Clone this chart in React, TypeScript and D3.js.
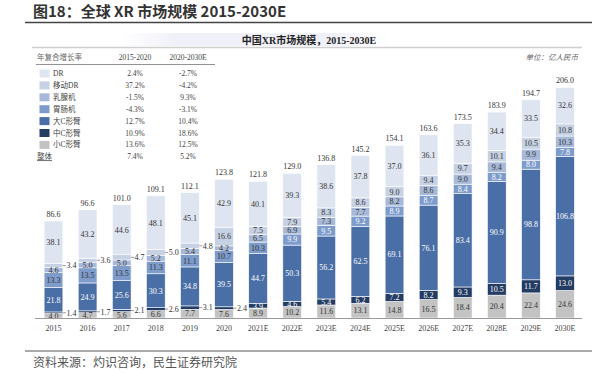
import * as d3 from "d3";

const years = ["2015", "2016", "2017", "2018", "2019", "2020", "2021E", "2022E", "2023E", "2024E", "2025E", "2026E", "2027E", "2028E", "2029E", "2030E"];
const totals = ["86.6", "96.6", "101.0", "109.1", "112.1", "123.8", "121.8", "129.0", "136.8", "145.2", "154.1", "163.6", "173.5", "183.9", "194.7", "206.0"];

// stack order: bottom to top
const smallC = [4.0, 4.7, 5.6, 6.6, 7.7, 7.6, 8.9, 10.2, 11.6, 13.1, 14.8, 16.5, 18.4, 20.4, 22.4, 24.6];
const midC = [1.4, 1.7, 2.1, 2.6, 3.1, 2.4, 3.9, 4.6, 5.4, 6.2, 7.2, 8.2, 9.3, 10.5, 11.7, 13.0];
const bigC = [21.8, 24.9, 25.6, 30.3, 34.8, 39.5, 44.7, 50.3, 56.2, 62.5, 69.1, 76.1, 83.4, 90.9, 98.8, 106.8];
const gastro = [13.3, 13.5, 13.5, 11.3, 11.1, 10.7, 10.3, 9.9, 9.5, 9.2, 8.9, 8.7, 8.4, 8.2, 8.0, 7.8];
const mammo = [4.6, 5.0, 5.0, 5.2, 5.4, 4.2, 6.5, 6.9, 7.3, 7.7, 8.2, 8.6, 9.0, 9.4, 9.9, 10.3];
const mobileDR = [3.4, 3.6, 4.7, 5.0, 4.8, 16.6, 7.5, 7.9, 8.3, 8.6, 9.0, 9.4, 9.7, 10.1, 10.5, 10.8];
const dr = [38.1, 43.2, 44.6, 48.1, 45.1, 42.9, 40.1, 39.3, 38.6, 37.8, 37.0, 36.1, 35.3, 34.4, 33.5, 32.6];

const seriesNames = ["小C形臂", "中C形臂", "大C形臂", "胃肠机", "乳腺机", "移动DR", "DR"];
const seriesValues = [smallC, midC, bigC, gastro, mammo, mobileDR, dr];
const colors = ["#c3c3c3", "#233c63", "#4a6ea6", "#7d9bcb", "#a7b9d8", "#c6d1e4", "#dfe5f0"];

// labels drawn beside the bar instead of inside
const outsideLabels = ["中C形臂|2015", "中C形臂|2016", "中C形臂|2017", "中C形臂|2018", "中C形臂|2019", "中C形臂|2020",
  "移动DR|2015", "移动DR|2016", "移动DR|2017", "移动DR|2018", "移动DR|2019"];
const whiteText = ["大C形臂", "中C形臂"];
const whiteGastroFrom = "2022E";

const legendNames = ["DR", "移动DR", "乳腺机", "胃肠机", "大C形臂", "中C形臂", "小C形臂", "整体"];
const cagr1520 = ["2.4%", "37.2%", "-1.5%", "-4.3%", "12.7%", "10.9%", "13.6%", "7.4%"];
const cagr2030 = ["-2.7%", "-4.2%", "9.3%", "-3.1%", "10.4%", "18.6%", "12.5%", "5.2%"];

const serif = "'Liberation Serif', 'Noto Sans CJK SC', serif";

export default function App() {
  const width = 598;
  const height = 373;
  const base = 318;

  const x = d3.scaleBand<string>()
    .domain(years)
    .range([36.45, 582.05])
    .paddingInner(0.45)
    .paddingOuter(0.225);
  const y = d3.scaleLinear().domain([0, 206]).range([base, base - 230.7]);

  const rows = years.map((yr, i) => {
    const r: any = { year: yr };
    seriesNames.forEach((s, k) => (r[s] = seriesValues[k][i]));
    return r;
  });
  const stack = d3.stack<any>().keys(seriesNames)(rows);
  const bw = x.bandwidth();
  const legendColor = (name: string) => {
    const k = seriesNames.indexOf(name);
    return k >= 0 ? colors[k] : null;
  };

  return (
    <svg width={width} height={height} style={{ position: "absolute", left: 0, top: 0, background: "#fff" }}>
      <defs>
        <linearGradient id="subBg" x1="0" x2="1" y1="0" y2="0">
          <stop offset="0" stopColor="#f3f3fa" stopOpacity="0" />
          <stop offset="0.2" stopColor="#f0f0f8" stopOpacity="1" />
          <stop offset="0.8" stopColor="#f0f0f8" stopOpacity="1" />
          <stop offset="1" stopColor="#f3f3fa" stopOpacity="0" />
        </linearGradient>
      </defs>
      <text x={33} y={17} fontFamily="'Noto Sans CJK SC', sans-serif" fontWeight="bold" fontSize={15} fill="#333">
        图18：全球 XR 市场规模 2015-2030E
      </text>
      <line x1={25} x2={592} y1={22.5} y2={22.5} stroke="#444" strokeWidth={1.5} />

      <rect x={120} y={33} width={270} height={13} fill="url(#subBg)" />
      <text x={309} y={44} textAnchor="middle" fontFamily={serif} fontWeight="bold" fontSize={10} fill="#222">
        中国XR市场规模，2015-2030E
      </text>
      <line x1={32} x2={582} y1={47.5} y2={47.5} stroke="#cfcfcf" strokeWidth={1.5} />
      <text x={578} y={60} textAnchor="end" fontFamily={serif} fontStyle="italic" fontSize={7.5} fill="#666">
        单位：亿人民币
      </text>

      {/* CAGR table */}
      <g fontFamily={serif} fontSize={7.5} fill="#444">
        <text x={37} y={60} fill="#666">年复合增长率</text>
        <text x={135} y={60} textAnchor="middle">2015-2020</text>
        <text x={188} y={60} textAnchor="middle">2020-2030E</text>
        <line x1={36} x2={215} y1={64.5} y2={64.5} stroke="#777" strokeWidth={0.8} />
        {legendNames.map((n, i) => {
          const cy = 73.5 + i * 11.9;
          const c = legendColor(n);
          return (
            <g key={n}>
              {c && <rect x={39.5} y={cy - 4} width={10} height={8} fill={c} />}
              <text x={c ? 53 : 37} y={cy + 2.5} textDecoration={c ? undefined : "underline"}>{n}</text>
              <text x={135} y={cy + 2.5} textAnchor="middle">{cagr1520[i]}</text>
              <text x={188} y={cy + 2.5} textAnchor="middle">{cagr2030[i]}</text>
            </g>
          );
        })}
      </g>

      {/* bars */}
      {stack.map((layer, k) => (
        <g key={layer.key}>
          {layer.map((d, i) => (
            <rect key={i} x={x(years[i])} y={y(d[1])} width={bw} height={y(d[0]) - y(d[1])}
              fill={colors[k]} stroke="#fff" strokeWidth={0.6} />
          ))}
        </g>
      ))}

      {/* segment labels */}
      <g fontFamily={serif} fontSize={8}>
        {stack.map((layer, k) =>
          layer.map((d, i) => {
            const name = seriesNames[k];
            const val = seriesValues[k][i].toFixed(1);
            const cy = (y(d[0]) + y(d[1])) / 2;
            const x0 = x(years[i])!;
            if (outsideLabels.includes(`${name}|${years[i]}`)) {
              return (
                <g key={`${k}-${i}`}>
                  <line x1={x0 + bw} x2={x0 + bw + 3} y1={cy} y2={cy} stroke="#555" strokeWidth={0.6} />
                  <text x={x0 + bw + 3.5} y={cy + 2.8} fill="#333">{val}</text>
                </g>
              );
            }
            const white = whiteText.includes(name) ||
              (name === "胃肠机" && i >= years.indexOf(whiteGastroFrom));
            return (
              <text key={`${k}-${i}`} x={x0 + bw / 2} y={cy + 2.8} textAnchor="middle" fill={white ? "#fff" : "#333"}>
                {val}
              </text>
            );
          })
        )}
        {years.map((yr, i) => (
          <text key={yr} x={x(yr)! + bw / 2} y={y(stack[stack.length - 1][i][1]) - 4} textAnchor="middle" fill="#333">
            {totals[i]}
          </text>
        ))}
        {years.map((yr) => (
          <text key={`x${yr}`} x={x(yr)! + bw / 2} y={331} textAnchor="middle" fill="#444">
            {yr}
          </text>
        ))}
      </g>
      <line x1={35} x2={582} y1={base + 0.5} y2={base + 0.5} stroke="#999" strokeWidth={1} />

      <line x1={25} x2={592} y1={351} y2={351} stroke="#555" strokeWidth={1} />
      <text x={33} y={367} fontFamily="'Noto Sans CJK SC', sans-serif" fontSize={12} fill="#555">
        资料来源：灼识咨询，民生证券研究院
      </text>
    </svg>
  );
}
